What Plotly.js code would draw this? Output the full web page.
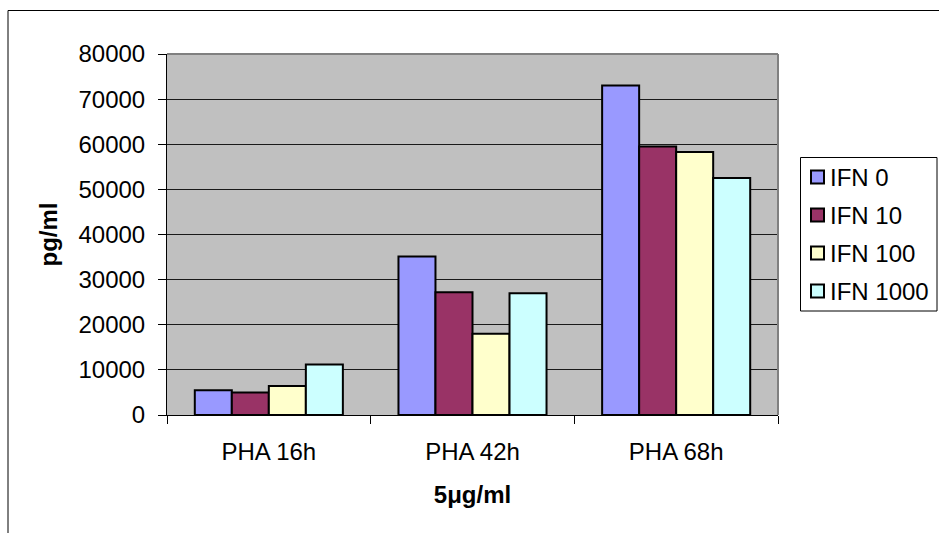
<!DOCTYPE html>
<html>
<head>
<meta charset="utf-8">
<script src="https://cdn.plot.ly/plotly-3.0.1.min.js"></script>
<style>
  html, body { margin: 0; padding: 0; background: #ffffff; }
  #chart { width: 939px; height: 533px; }
</style>
</head>
<body>
<div id="chart"></div>
<script>
// PHA stimulation time points (5 µg/ml) and IFN doses
var categories = ["PHA 16h", "PHA 42h", "PHA 68h"];
var seriesNames = ["IFN 0", "IFN 10", "IFN 100", "IFN 1000"];
var ifn0 = [5500, 35100, 73000];
var ifn10 = [5000, 27200, 59500];
var ifn100 = [6400, 18000, 58300];
var ifn1000 = [11200, 27000, 52500];
var yTickValues = [0, 10000, 20000, 30000, 40000, 50000, 60000, 70000, 80000];
var yTickLabels = ["0", "10000", "20000", "30000", "40000", "50000", "60000", "70000", "80000"];

var seriesValues = [ifn0, ifn10, ifn100, ifn1000];
var seriesColors = ["#9999FF", "#993366", "#FFFFCC", "#CCFFFF"];

var font = "Liberation Sans, Arial, sans-serif";
var W = 939, H = 533;
var M = { l: 167, r: 161, t: 54, b: 118 };
var plotW = W - M.l - M.r, plotH = H - M.t - M.b;
// pixel -> paper coordinate helpers for the frame and the legend box
function px(x) { return (x - M.l) / plotW; }
function py(y) { return (H - M.b - y) / plotH; }

var traces = seriesNames.map(function (name, i) {
  return {
    type: "bar",
    name: name,
    x: categories,
    y: seriesValues[i],
    marker: { color: seriesColors[i], line: { color: "#000000", width: 2 } },
    showlegend: false
  };
});

var shapes = [
  // gray frame on top and right of the plotting area
  { type: "line", xref: "paper", yref: "paper", x0: 0, x1: 1, y0: 1, y1: 1,
    line: { color: "#808080", width: 2 } },
  { type: "line", xref: "paper", yref: "paper", x0: 1, x1: 1, y0: 0, y1: 1,
    line: { color: "#808080", width: 2 } },
  // outer chart border
  { type: "rect", xref: "paper", yref: "paper", layer: "below",
    x0: px(8), x1: px(960), y0: py(560), y1: py(10.5),
    line: { color: "#000000", width: 1 }, fillcolor: "rgba(0,0,0,0)" },
  // legend box
  { type: "rect", xref: "paper", yref: "paper",
    x0: px(800.5), x1: px(937), y0: py(311), y1: py(157.5),
    line: { color: "#000000", width: 1 }, fillcolor: "#ffffff" }
];

var annotations = [];
var itemTop = 177, itemStep = 38;
seriesNames.forEach(function (name, i) {
  var cy = itemTop + i * itemStep;
  shapes.push({
    type: "rect", xref: "paper", yref: "paper",
    x0: px(811), x1: px(824), y0: py(cy + 6.5), y1: py(cy - 6.5),
    line: { color: "#000000", width: 2 }, fillcolor: seriesColors[i]
  });
  annotations.push({
    xref: "paper", yref: "paper", x: px(828), y: py(cy),
    xanchor: "left", yanchor: "middle", showarrow: false,
    text: name, font: { family: font, size: 24, color: "#000000" }
  });
});

var layout = {
  width: W,
  height: H,
  margin: { l: M.l, r: M.r, t: M.t, b: M.b, pad: 0 },
  paper_bgcolor: "#ffffff",
  plot_bgcolor: "#C0C0C0",
  barmode: "group",
  bargap: 0.273,
  bargroupgap: 0,
  font: { family: font, size: 24, color: "#000000" },
  showlegend: false,
  xaxis: {
    type: "category",
    showline: true, linecolor: "#000000", linewidth: 1,
    ticks: "outside", ticklen: 8, tickcolor: "#000000", tickwidth: 1,
    tickson: "boundaries",
    ticklabelstandoff: 15,
    showgrid: false, zeroline: false,
    tickfont: { family: font, size: 24, color: "#000000" },
    title: { text: "<b>5μg/ml</b>", font: { family: font, size: 24, color: "#000000" }, standoff: 22 }
  },
  yaxis: {
    range: [0, 80000],
    tickvals: yTickValues, ticktext: yTickLabels,
    showline: true, linecolor: "#000000", linewidth: 1,
    ticks: "outside", ticklen: 8, tickcolor: "#000000", tickwidth: 1,
    ticklabelstandoff: 8,
    showgrid: true, gridcolor: "#1a1a1a", gridwidth: 1,
    zeroline: false,
    tickfont: { family: font, size: 24, color: "#000000" },
    title: { text: "<b>pg/ml</b>", font: { family: font, size: 24, color: "#000000" }, standoff: 14 }
  },
  shapes: shapes,
  annotations: annotations
};

Plotly.newPlot("chart", traces, layout, { displayModeBar: false, staticPlot: true });
</script>
</body>
</html>
